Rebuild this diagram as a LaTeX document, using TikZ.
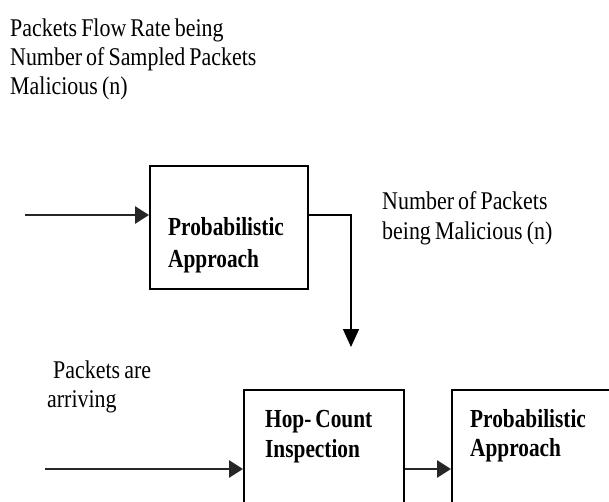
\documentclass[tikz,border=0pt]{standalone}
\usepackage{fontspec}
\setmainfont{Liberation Serif}[UprightFeatures={FakeStretch=0.86},BoldFeatures={FakeStretch=0.82},WordSpace=0.75]
\usetikzlibrary{arrows.meta}
\begin{document}
\begin{tikzpicture}[x=1pt,y=-1pt,
  txt/.style={anchor=base west,inner sep=0pt,font=\fontsize{25.5}{29}\selectfont},
  btxt/.style={anchor=base west,inner sep=0pt,font=\fontsize{26}{29}\selectfont\bfseries},
  blk/.style={draw=black,line width=1.6pt,rectangle,anchor=north west,inner sep=0pt},
  arr/.style={line width=2.8pt,draw=black!85,-{Triangle[length=14pt,width=17pt]}},
  conn/.style={line width=1.6pt,draw=black,-{Triangle[length=18pt,width=16pt]}}]
\useasboundingbox (0,0) rectangle (609,502);
\clip (0,0) rectangle (609,502);
% top label
\node[txt] (t1) at (10,37) {Packets Flow Rate being};
\node[txt] (t2) at (10,66) {Number of Sampled Packets};
\node[txt] (t3) at (10,95) {Malicious (n)};
% top box
\node[blk,minimum width=158pt,minimum height=123pt] (pa) at (149,165) {};
\node[btxt] (pa1) at (168,236) {Probabilistic};
\node[btxt] (pa2) at (168,267) {Approach};
\coordinate (s1) at (25,215);
\draw[arr] (s1) -- (s1 -| pa.west);
% right label
\node[txt] (n1) at (382,210) {Number of Packets};
\node[txt] (n2) at (382,240) {being Malicious (n)};
% connector down
\coordinate (c1) at (351,347);
\draw[conn] ([yshift=12.5pt]pa.east) -| (c1);
% bottom
\node[txt] (p1) at (53,378) {Packets are};
\node[txt] (p2) at (47,407) {arriving};
\node[blk,minimum width=160pt,minimum height=150pt] (hc) at (243,389) {};
\node[btxt] (h1) at (265,427) {Hop- Count};
\node[btxt] (h2) at (265,457) {Inspection};
\node[blk,minimum width=200pt,minimum height=150pt] (pb) at (451,389) {};
\node[btxt] (q1) at (470,427) {Probabilistic};
\node[btxt] (q2) at (470,456) {Approach};
\coordinate (s2) at (45,469);
\draw[arr] (s2) -- (s2 -| hc.west);
\draw[arr] (hc.east |- s2) -- (pb.west |- s2);
\end{tikzpicture}
\end{document}
